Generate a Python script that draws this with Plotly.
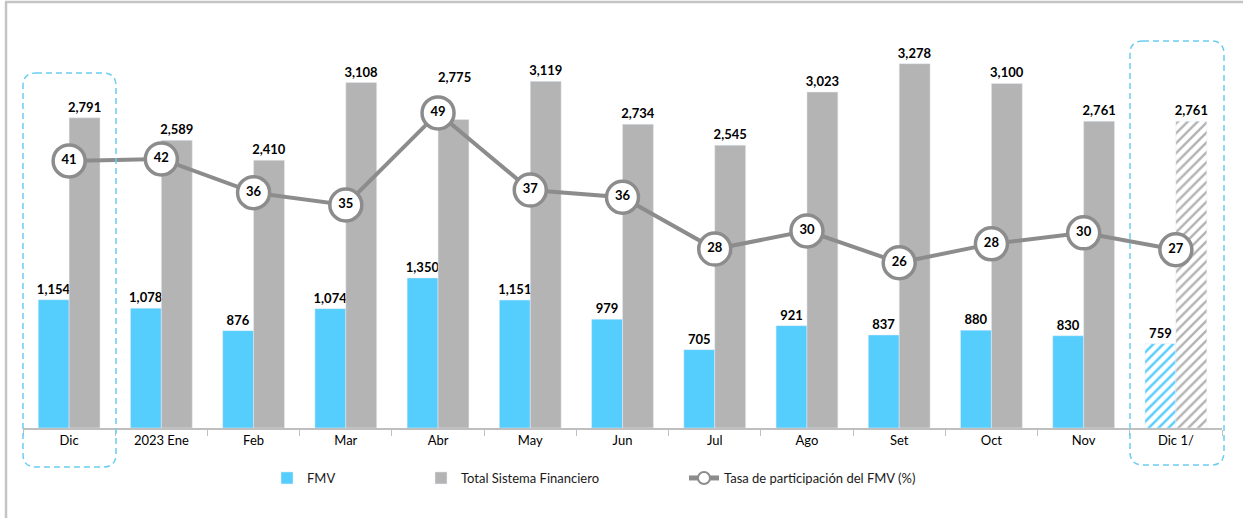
import plotly.graph_objects as go

categories = ["Dic", "2023 Ene", "Feb", "Mar", "Abr", "May", "Jun", "Jul", "Ago", "Set", "Oct", "Nov", "Dic 1/"]
fmv = [1154, 1078, 876, 1074, 1350, 1151, 979, 705, 921, 837, 880, 830, 759]
total = [2791, 2589, 2410, 3108, 2775, 3119, 2734, 2545, 3023, 3278, 3100, 2761, 2761]
rate = [41.2, 41.5, 36.3, 34.4, 48.6, 36.7, 35.6, 27.6, 30.4, 25.5, 28.4, 30.1, 27.5]
rate_labels = ["41", "42", "36", "35", "49", "37", "36", "28", "30", "26", "28", "30", "27"]
hatched = [False] * 12 + [True]
raised_label = "Abr"  # total label lifted above the rate marker

W, H = 1243, 518
ML, MR, MT, MB = 23, 21, 39, 90
PW, PH = W - ML - MR, H - MT - MB

def px_x(p):
    return (p - ML) / PW

def px_y(p):
    return (H - MB - p) / PH

FONT = "Lato"
CYAN = "#55CDFD"
GRAY = "#B4B4B4"
LINE = "#8C8C8C"
DASH = "#6BCDF2"

shape_pat = ["/" if h else "" for h in hatched]
total_text = ["" if c == raised_label else f"{v:,}" for c, v in zip(categories, total)]

fig = go.Figure()
fig.add_trace(go.Bar(
    x=categories, y=fmv, name="FMV", marker_color=CYAN,
    marker_pattern=dict(shape=shape_pat, fgcolor=CYAN, bgcolor="white", size=7, solidity=0.35, fillmode="replace"),
    texttemplate="%{y:,}", textposition="outside", constraintext="none", cliponaxis=False,
    textfont=dict(family=FONT, size=13, color="black", weight="bold"),
    legend="legend", showlegend=True,
))
fig.add_trace(go.Bar(
    x=categories, y=total, name="Total Sistema Financiero", marker_color=GRAY,
    marker_pattern=dict(shape=shape_pat, fgcolor=GRAY, bgcolor="white", size=7, solidity=0.35, fillmode="replace"),
    text=total_text, texttemplate="%{text}", textposition="outside", constraintext="none", cliponaxis=False,
    textfont=dict(family=FONT, size=13, color="black", weight="bold"),
    legend="legend2", showlegend=True,
))
fig.add_trace(go.Scatter(
    x=categories, y=rate, yaxis="y2", name="Tasa de participación del FMV (%)",
    mode="lines+markers+text", text=rate_labels, textposition="middle center",
    textfont=dict(family=FONT, size=13, color="black", weight="bold"),
    line=dict(color=LINE, width=4),
    marker=dict(size=32, color="white", line=dict(color=LINE, width=3.5)),
    cliponaxis=False,
    legend="legend3", showlegend=True,
))

ri = categories.index(raised_label)
annotations = [dict(
    x=categories[ri], y=total[ri], xref="x", yref="y", text=f"<b>{total[ri]:,}</b>",
    showarrow=False, xshift=16, yshift=43, yanchor="middle",
    font=dict(family=FONT, size=13, color="black"),
)]

def rrect(x0, x1, y0, y1, r):
    pts = [
        ("M", (x0 + r, y0)), ("L", (x1 - r, y0)), ("Q", (x1, y0), (x1, y0 + r)),
        ("L", (x1, y1 - r)), ("Q", (x1, y1), (x1 - r, y1)),
        ("L", (x0 + r, y1)), ("Q", (x0, y1), (x0, y1 - r)),
        ("L", (x0, y0 + r)), ("Q", (x0, y0), (x0 + r, y0)),
    ]
    s = ""
    for p in pts:
        cmd = p[0]
        coords = " ".join(f"{px_x(a):.5f},{px_y(b):.5f}" for a, b in p[1:])
        s += f"{cmd}{coords} "
    return s + "Z"

shapes = [
    dict(type="path", xref="paper", yref="paper", path=rrect(23, 116, 73, 467, 13),
         line=dict(color=DASH, width=1.5, dash="6px,4px")),
    dict(type="path", xref="paper", yref="paper", path=rrect(1130, 1224, 41, 465, 13),
         line=dict(color=DASH, width=1.5, dash="6px,4px")),
    dict(type="line", xref="paper", yref="paper", x0=px_x(6), x1=px_x(6), y0=px_y(2), y1=px_y(520),
         line=dict(color="#C4C4C4", width=2.5)),
    dict(type="line", xref="paper", yref="paper", x0=px_x(5), x1=px_x(1245), y0=px_y(2), y1=px_y(2),
         line=dict(color="#C4C4C4", width=2.5)),
]

legend_common = dict(orientation="h", yanchor="middle", y=px_y(478), xanchor="left",
                     font=dict(family=FONT, size=13, color="#1a1a1a"), bgcolor="rgba(0,0,0,0)")

fig.update_layout(
    width=W, height=H,
    margin=dict(l=ML, r=MR, t=MT, b=MB, autoexpand=False),
    paper_bgcolor="white", plot_bgcolor="white",
    showlegend=True,
    barmode="group", bargap=0.33, bargroupgap=0,
    font=dict(family=FONT, size=13, color="black"),
    xaxis=dict(type="category", range=[-0.5, 12.5], showline=True, linecolor="#BFBFBF", linewidth=1.5,
               ticks="outside", tickson="boundaries", ticklen=6, tickcolor="#BFBFBF",
               tickfont=dict(family=FONT, size=13, color="black"), showgrid=False),
    yaxis=dict(range=[0, 3500], visible=False, showgrid=False),
    yaxis2=dict(range=[0, 60], overlaying="y", visible=False, showgrid=False),
    legend=dict(x=px_x(267), **legend_common),
    legend2=dict(x=px_x(421), **legend_common),
    legend3=dict(x=px_x(684), itemsizing="constant", **legend_common),
    shapes=shapes,
    annotations=annotations,
)

fig.write_html("out.html", config={"displayModeBar": False},
               post_script="document.body.style.margin='0';")
